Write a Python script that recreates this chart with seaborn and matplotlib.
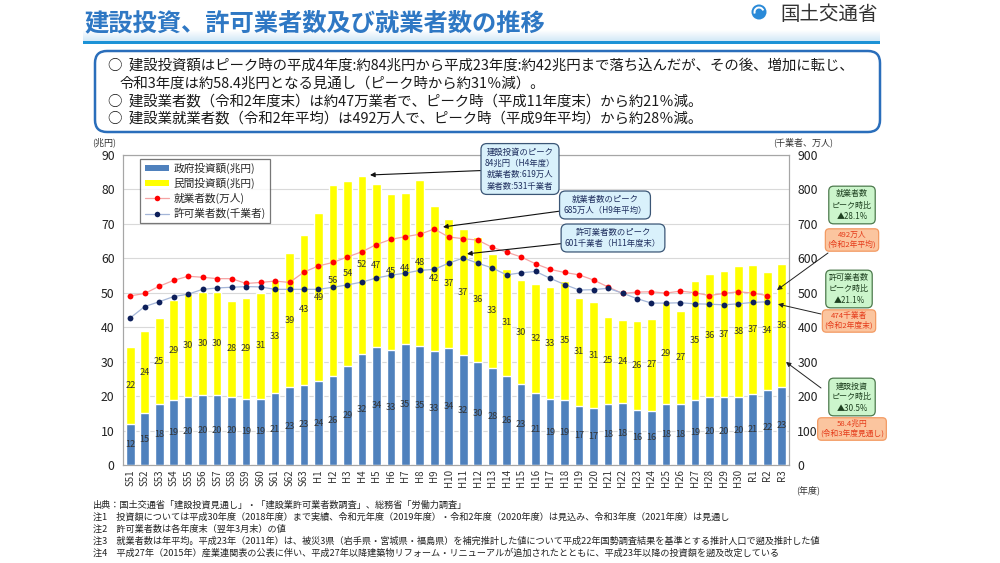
import numpy as np
import pandas as pd
import matplotlib
matplotlib.use("Agg")
import matplotlib.pyplot as plt
import seaborn as sns
from matplotlib.patches import FancyBboxPatch, Rectangle, Patch, Circle, Wedge
from matplotlib.lines import Line2D

# fiscal years S51 .. R3
years = ([f"S{y}" for y in range(51, 64)] + [f"H{y}" for y in range(1, 31)]
         + ["R1", "R2", "R3"])

# investment (trillion yen)
gov_invest = [12.0, 15.0, 17.6, 18.8, 19.6, 20.2, 20.2, 19.8, 19.3, 19.2, 20.8, 22.6, 23.3,
              24.3, 25.7, 28.6, 32.2, 34.3, 33.4, 35.1, 34.6, 33.0, 34.0,
              31.8, 29.9, 28.2, 25.9, 23.4, 20.9, 19.1, 18.8, 17.2, 16.6,
              17.8, 18.0, 16.0, 15.8, 17.7, 17.6, 18.8, 19.6, 19.6, 19.8,
              20.7, 21.9, 22.7]
private_invest = [22.2, 23.8, 25.0, 29.0, 30.0, 30.0, 29.9, 27.8, 29.1, 30.7, 32.8, 38.9, 43.4,
                  48.8, 55.7, 53.8, 51.8, 47.2, 45.3, 43.9, 48.2, 42.2, 37.4,
                  36.8, 36.3, 33.1, 30.9, 30.2, 31.6, 32.6, 34.7, 31.3, 30.6,
                  25.2, 24.0, 25.7, 26.6, 29.2, 27.2, 34.6, 35.8, 36.6, 38.1,
                  37.3, 34.1, 35.7]

# workers (10k persons) and licensed contractors (thousand), S51 .. R2
workers = [491, 498, 519, 536, 548, 545, 541, 541, 527, 530, 534, 530, 560,
           578, 588, 604, 619, 640, 655, 663, 670, 685, 662,
           657, 653, 632, 618, 604, 584, 568, 559, 552, 537,
           517, 498, 502, 503, 499, 505, 500, 492, 498, 503,
           499, 492]
permits = [427, 460, 474, 489, 496, 510, 514, 516, 518, 517, 510, 510, 510,
           510, 516, 523, 531, 543, 551, 557, 565, 568, 586,
           601, 586, 572, 552, 558, 562, 542, 524, 508, 509,
           513, 499, 483, 470, 470, 471, 468, 467, 465, 468,
           472, 474]

df = pd.DataFrame({"year": years, "gov": gov_invest, "private": private_invest})
df["total"] = df["gov"] + df["private"]

GOV_C = "#4f81bd"
PRI_C = "#ffff00"

sns.set_theme(style="white")
plt.rcParams["font.family"] = ["Noto Sans CJK JP", "DejaVu Sans"]

fig = plt.figure(figsize=(10, 5.63), dpi=100)
H = 563.0


def fx(px):
    return px / 1000.0


def fy(py):
    return 1 - py / H


# ---- header ----
band = fig.add_axes([fx(83), fy(42), fx(880 - 83), 12 / H])
grad = np.linspace(0, 1, 50).reshape(-1, 1)
band.imshow(grad, aspect="auto", cmap=matplotlib.colors.LinearSegmentedColormap.from_list(
    "b", ["#ffffff", "#cfe6f6"]), extent=[0, 1, 0, 1])
band.axis("off")
fig.add_artist(Rectangle((fx(83), fy(44)), fx(880 - 83), 3 / H,
                         transform=fig.transFigure, color="#1c92d6", lw=0))
fig.text(fx(84), fy(23), "建設投資、許可業者数及び就業者数の推移", fontsize=17.5,
         fontweight="bold", color="#2f78c4", va="center", ha="left")

# logo
fig.add_artist(Circle((7.59, (H - 12) / 100), 0.075, transform=fig.dpi_scale_trans,
                      color="#2a8ad8", lw=0))
fig.add_artist(Wedge((7.59, (H - 12) / 100), 0.055, 20, 200, width=0.02,
                     transform=fig.dpi_scale_trans, color="white", lw=0))
fig.text(fx(780), fy(15), "国土交通省", fontsize=14, color="#333333", va="center")

# summary box
fig.add_artist(FancyBboxPatch((0.95, (H - 132) / 100), 7.85, 0.81,
                              boxstyle="round,pad=0,rounding_size=0.12",
                              transform=fig.dpi_scale_trans, facecolor="white",
                              edgecolor="#2a6ebb", lw=1.8))
summary = [
    (108, 66, "○  建設投資額はピーク時の平成4年度:約84兆円から平成23年度:約42兆円まで落ち込んだが、その後、増加に転じ、"),
    (120, 84, "令和3年度は約58.4兆円となる見通し（ピーク時から約31％減）。"),
    (108, 101, "○  建設業者数（令和2年度末）は約47万業者で、ピーク時（平成11年度末）から約21％減。"),
    (108, 118, "○  建設業就業者数（令和2年平均）は492万人で、ピーク時（平成9年平均）から約28％減。"),
]
for x, y, t in summary:
    fig.text(fx(x), fy(y), t, fontsize=10.4, color="#1a1a1a", va="center")

# ---- chart ----
ax = fig.add_axes([fx(123), fy(465), fx(789 - 123), (465 - 155) / H])
sns.barplot(data=df, x="year", y="total", color=PRI_C, saturation=1, width=0.6,
            ax=ax, zorder=2)
sns.barplot(data=df, x="year", y="gov", color=GOV_C, saturation=1, width=0.6,
            ax=ax, zorder=3)
ax.bar_label(ax.containers[1], labels=[f"{v:.0f}" for v in df["gov"]],
             label_type="center", fontsize=6.6, color="#333333", zorder=4)
for i, (g, p) in enumerate(zip(df["gov"], df["private"])):
    ax.text(i, g + p / 2, f"{p:.0f}", ha="center", va="center", fontsize=6.6,
            color="#333333", zorder=4)

ax.set_ylim(0, 90)
ax.set_yticks(range(0, 91, 10))
ax.set_xlim(-0.5, len(years) - 0.5)
ax.yaxis.grid(True, color="#d9d9d9", lw=0.8, zorder=0)
ax.set_axisbelow(True)
ax.set_xlabel("")
ax.set_ylabel("")
ax.tick_params(axis="x", rotation=90, labelsize=7, length=0, pad=3, colors="#333333")
ax.tick_params(axis="y", labelsize=8.8, length=0, pad=6, colors="#222222")
for s in ax.spines.values():
    s.set_color("#a6a6a6")
    s.set_linewidth(0.8)

ax2 = ax.twinx()
sns.lineplot(x=np.arange(len(workers)), y=workers, ax=ax2, color="#f5a3a3", lw=0.9,
             marker="o", markersize=4.2, markerfacecolor="#ff0000",
             markeredgecolor="#ff0000", markeredgewidth=0)
sns.lineplot(x=np.arange(len(permits)), y=permits, ax=ax2, color="#a4b6d8", lw=0.9,
             marker="o", markersize=4.2, markerfacecolor="#0d1f5a",
             markeredgecolor="#0d1f5a", markeredgewidth=0)
ax2.set_ylim(0, 900)
ax2.set_yticks(range(0, 901, 100))
ax2.set_xlim(-0.5, len(years) - 0.5)
ax2.set_ylabel("")
ax2.grid(False)
ax2.tick_params(axis="y", labelsize=8.8, length=0, pad=6, colors="#222222")
for s in ax2.spines.values():
    s.set_color("#a6a6a6")
    s.set_linewidth(0.8)

handles = [
    Patch(facecolor=GOV_C, edgecolor="none", label="政府投資額(兆円)"),
    Patch(facecolor=PRI_C, edgecolor="none", label="民間投資額(兆円)"),
    Line2D([], [], color="#f5a3a3", lw=0.9, marker="o", markersize=4,
           markerfacecolor="#ff0000", markeredgewidth=0, label="就業者数(万人)"),
    Line2D([], [], color="#a4b6d8", lw=0.9, marker="o", markersize=4,
           markerfacecolor="#0d1f5a", markeredgewidth=0, label="許可業者数(千業者)"),
]
leg = ax2.legend(handles=handles, loc="upper left", bbox_to_anchor=(0.018, 1.005),
                 fontsize=7.7, frameon=True, fancybox=False, borderpad=0.4,
                 labelspacing=0.35, handlelength=2.3, handleheight=0.5,
                 handletextpad=0.4)
leg.get_frame().set_edgecolor("#555555")
leg.get_frame().set_linewidth(0.9)

fig.text(fx(104), fy(142), "(兆円)", fontsize=6.5, ha="center", va="center", color="#333333")
fig.text(fx(803), fy(142), "(千業者、万人)", fontsize=6.5, ha="center", va="center",
         color="#333333")
fig.text(fx(808), fy(490), "(年度)", fontsize=6.5, ha="center", va="center", color="#333333")

# peak callouts
peak_box = dict(boxstyle="round,pad=0.45,rounding_size=0.7", facecolor="#d9f1fb",
                edgecolor="#3b5676", lw=0.9)
arrow = dict(arrowstyle="-|>", color="#111111", lw=0.8, mutation_scale=7, shrinkA=0,
             shrinkB=0)
ax2.annotate("建設投資のピーク\n84兆円（H4年度）\n就業者数:619万人\n業者数:531千業者",
             xy=(16.56, 842), xytext=(fx(520), fy(169)), textcoords="figure fraction",
             ha="center", va="center", fontsize=6, color="#1f2f5f", linespacing=1.35,
             bbox=peak_box, arrowprops=arrow, annotation_clip=False)
ax2.annotate("就業者数のピーク\n685万人（H9年平均）", xy=(21.6, 691),
             xytext=(fx(605), fy(205)), textcoords="figure fraction",
             ha="center", va="center", fontsize=6, color="#1f2f5f", linespacing=1.35,
             bbox=peak_box, arrowprops=arrow)
ax2.annotate("許可業者数のピーク\n601千業者（H11年度末）", xy=(23.26, 613),
             xytext=(fx(613), fy(238)), textcoords="figure fraction",
             ha="center", va="center", fontsize=6, color="#1f2f5f", linespacing=1.35,
             bbox=peak_box, arrowprops=arrow)

# right-hand notes
green_box = dict(boxstyle="round,pad=0.4,rounding_size=0.6", facecolor="#ccf5cc",
                 edgecolor="#4d7a4d", lw=0.9)
orange_box = dict(boxstyle="round,pad=0.3,rounding_size=0.5", facecolor="#fbc59f",
                  edgecolor="#f39a62", lw=0.9)
notes = [
    (852, 205, "就業者数\nピーク時比\n▲28.1%", 852, 240, "492万人\n(令和2年平均)"),
    (849, 289, "許可業者数\nピーク時比\n▲21.1%", 849, 321, "474千業者\n(令和2年度末)"),
    (852, 397, "建設投資\nピーク時比\n▲30.5%", 852, 429, "58.4兆円\n(令和3年度見通し)"),
]
for gx, gy, gt, ox, oy, ot in notes:
    fig.text(fx(gx), fy(gy), gt, fontsize=5.8, ha="center", va="center",
             color="#1e4020", linespacing=1.3, bbox=green_box, zorder=5)
    fig.text(fx(ox), fy(oy), ot, fontsize=5.6, ha="center", va="center",
             color="#e53b1a", linespacing=1.2, bbox=orange_box, zorder=5)

link = dict(arrowstyle="-|>", color="#222222", lw=0.7, mutation_scale=7, shrinkA=0,
            shrinkB=0)
ax2.annotate("", xy=(44.67, 508), xytext=(fx(828), fy(253)), textcoords="figure fraction",
             arrowprops=link, annotation_clip=False)
ax2.annotate("", xy=(44.74, 467), xytext=(fx(821), fy(314)), textcoords="figure fraction",
             arrowprops=link, annotation_clip=False)
ax2.annotate("", xy=(45.29, 299), xytext=(fx(821), fy(388)), textcoords="figure fraction",
             arrowprops=link, annotation_clip=False)

# ---- footnotes ----
footnotes = [
    "出典：国土交通省「建設投資見通し」・「建設業許可業者数調査」、総務省「労働力調査」",
    "注1　投資額については平成30年度（2018年度）まで実績、令和元年度（2019年度）・令和2年度（2020年度）は見込み、令和3年度（2021年度）は見通し",
    "注2　許可業者数は各年度末（翌年3月末）の値",
    "注3　就業者数は年平均。平成23年（2011年）は、被災3県（岩手県・宮城県・福島県）を補完推計した値について平成22年国勢調査結果を基準とする推計人口で遡及推計した値",
    "注4　平成27年（2015年）産業連関表の公表に伴い、平成27年以降建築物リフォーム・リニューアルが追加されたとともに、平成23年以降の投資額を遡及改定している",
]
for k, t in enumerate(footnotes):
    fig.text(fx(93), fy(505 + k * 12), t, fontsize=6.6, color="#222222", va="center")

fig.savefig("out.png", dpi=100)
